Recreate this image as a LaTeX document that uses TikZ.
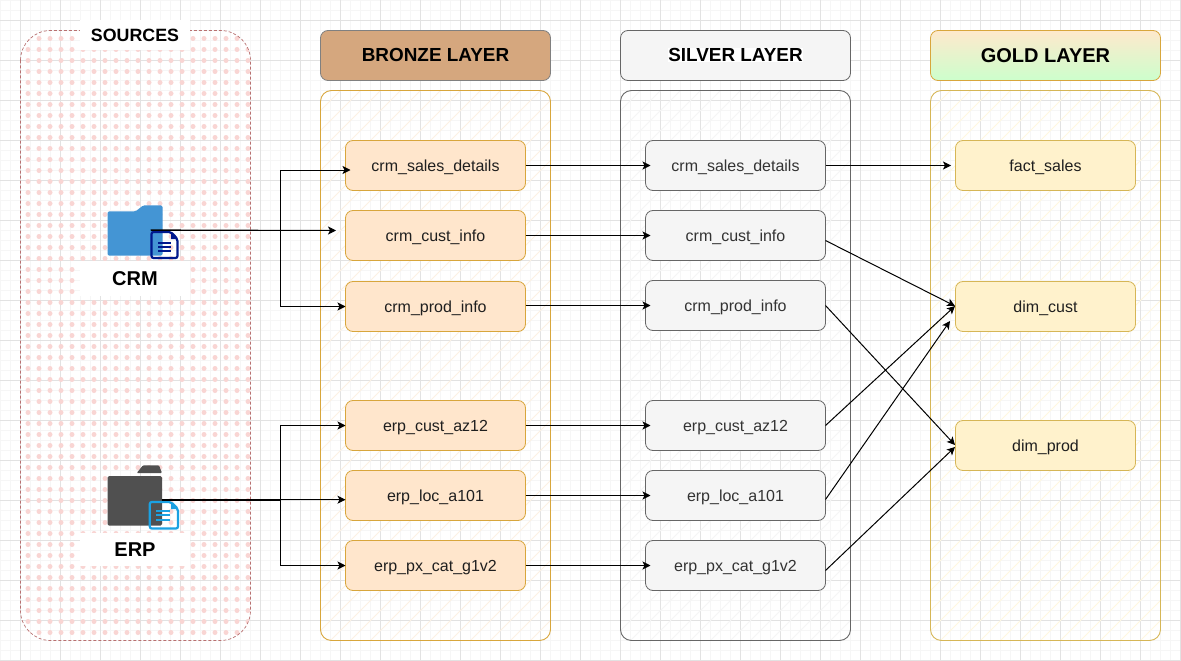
\documentclass[tikz,border=0pt]{standalone}
\usepackage{fontspec}
\setmainfont{Liberation Sans}
\usetikzlibrary{arrows.meta,calc}
\definecolor{gridminor}{HTML}{F6F6F6}
\definecolor{gridmajor}{HTML}{E2E2E2}
\definecolor{dotpink}{HTML}{F9D5D3}
\definecolor{srcdash}{HTML}{B87070}
\definecolor{bronzehead}{HTML}{D5A77E}
\definecolor{bronzeedge}{HTML}{D8A63C}
\definecolor{bronzefill}{HTML}{FFE6CC}
\definecolor{bronzehatch}{HTML}{FCF1E3}
\definecolor{silverfill}{HTML}{F5F5F5}
\definecolor{silveredge}{HTML}{666666}
\definecolor{silverhatch}{HTML}{F5F5F5}
\definecolor{goldfill}{HTML}{FFF2CC}
\definecolor{goldedge}{HTML}{D6B656}
\definecolor{goldhatch}{HTML}{FFF7E0}
\definecolor{crmblue}{HTML}{4495D4}
\definecolor{crmdoc}{HTML}{00188D}
\definecolor{erpgrey}{HTML}{505050}
\definecolor{erpdoc}{HTML}{1BA1E2}
\tikzset{
  x=1pt,y=-1pt,
  boxbase/.style={rectangle,rounded corners=7.5pt,minimum width=180pt,minimum height=50pt,inner sep=0pt,outer sep=0pt,line width=.8pt,text height=11pt,text depth=0pt,font=\fontsize{16}{18}\selectfont},
  bronzenode/.style={boxbase,draw=bronzeedge,fill=bronzefill,text=black!88},
  silvernode/.style={boxbase,draw=silveredge,fill=silverfill,text=black!80},
  goldnode/.style={boxbase,draw=goldedge,fill=goldfill,text=black!88},
  headbase/.style={rectangle,rounded corners=7.5pt,minimum width=230pt,minimum height=50pt,inner sep=0pt,outer sep=0pt,line width=.8pt,text height=12pt,text depth=0pt,font=\fontsize{18.9}{22}\selectfont\bfseries},
  panelbase/.style={rounded corners=11pt,line width=.9pt},
  flow/.style={draw=black,line width=1pt,-{Stealth[length=8pt,width=8pt,inset=2pt]}},
  srclabel/.style={rectangle,fill=white,inner sep=0pt,minimum width=110pt,text=black,font=\bfseries},
}
\newcommand{\hatchpanel}[3]{%
  \begin{scope}
    \clip[rounded corners=11pt] (#1,90.5) rectangle (#1+230,640.5);
    \foreach \c in {-550,-530,...,240} {
      \draw[#3,line width=.8pt] (#1+\c,640.5) -- (#1+\c+550,90.5);
    }
  \end{scope}
  \draw[panelbase,draw=#2] (#1,90.5) rectangle (#1+230,640.5);
}
\begin{document}
\begin{tikzpicture}
\useasboundingbox (0,0) rectangle (1181,661);
\fill[white] (0,0) rectangle (1181,661);
% grid
\foreach \v in {0.5,10.5,...,1180.5} \draw[gridminor,line width=.8pt] (\v,0) -- (\v,661);
\foreach \v in {0.5,10.5,...,660.5} \draw[gridminor,line width=.8pt] (0,\v) -- (1181,\v);
\foreach \v in {20.5,60.5,...,1180.5} \draw[gridmajor,line width=.8pt] (\v,0) -- (\v,661);
\foreach \v in {20.5,60.5,...,660.5} \draw[gridmajor,line width=.8pt] (0,\v) -- (1181,\v);
% sources panel
\begin{scope}
  \clip[rounded corners=30pt] (20.5,30.5) rectangle (250.5,640.5);
  \foreach \i in {0,...,20} \foreach \j in {0,...,54}
    \fill[dotpink] (28+11*\i,38.5+11*\j) circle[radius=2.5];
\end{scope}
\draw[srcdash,dash pattern=on 3pt off 2pt,line width=.7pt,rounded corners=30pt] (20.5,30.5) rectangle (250.5,640.5);
\node[srclabel,minimum height=30pt,font=\fontsize{17.8}{20}\selectfont\bfseries] (sources) at (135,35) {SOURCES};
\node[srclabel,minimum height=35pt,text height=14pt,text depth=0pt,font=\fontsize{20}{23}\selectfont\bfseries] (crm) at (135,278) {CRM};
\node[srclabel,minimum height=33pt,text height=14pt,text depth=0pt,font=\fontsize{20}{23}\selectfont\bfseries] (erp) at (135,549) {ERP};
% layer panels
\hatchpanel{320.5}{bronzeedge}{bronzehatch}
\hatchpanel{620.5}{silveredge}{silverhatch}
\hatchpanel{930.5}{goldedge}{goldhatch}
% headers
\node[headbase,draw=black!50,fill=bronzehead] (hbronze) at (435.5,55.5) {BRONZE LAYER};
\node[headbase,draw=silveredge,fill=silverfill] (hsilver) at (735.5,55.5) {\setlength{\fboxsep}{0pt}\colorbox{white}{SILVER LAYER}};
\node[headbase,draw=bronzeedge,top color=bronzefill!80!goldfill,bottom color=green!20,text height=14pt,font=\fontsize{20}{23}\selectfont\bfseries] (hgold) at (1045.5,55.5) {GOLD LAYER};
% bronze
\node[bronzenode] (bsales) at (435.5,165.5) {crm\_sales\_details};
\node[bronzenode] (bcust) at (435.5,235.5) {crm\_cust\_info};
\node[bronzenode] (bprod) at (435.5,306.5) {crm\_prod\_info};
\node[bronzenode] (baz) at (435.5,425.5) {erp\_cust\_az12};
\node[bronzenode] (bloc) at (435.5,495.5) {erp\_loc\_a101};
\node[bronzenode] (bpx) at (435.5,565.5) {erp\_px\_cat\_g1v2};
% silver
\node[silvernode] (ssales) at (735.5,165.5) {crm\_sales\_details};
\node[silvernode] (scust) at (735.5,235.5) {crm\_cust\_info};
\node[silvernode] (sprod) at (735.5,305.5) {crm\_prod\_info};
\node[silvernode] (saz) at (735.5,425.5) {erp\_cust\_az12};
\node[silvernode] (sloc) at (735.5,495.5) {erp\_loc\_a101};
\node[silvernode] (spx) at (735.5,565.5) {erp\_px\_cat\_g1v2};
% gold
\node[goldnode] (gfact) at (1045.5,165.5) {fact\_sales};
\node[goldnode] (gcust) at (1045.5,306.5) {dim\_cust};
\node[goldnode] (gprod) at (1045.5,445.5) {dim\_prod};
% icons: CRM
\fill[crmblue,rounded corners=1.5pt] (107.5,211.3) -- (135.7,211.3) -- (143.3,205.3) -- (162.5,205.3) -- (162.5,255.5) -- (107.5,255.5) -- cycle;
\draw[crmdoc,line width=2.2pt,rounded corners=2pt] (151.5,232) -- (171,232) -- (177.5,239) -- (177.5,258) -- (151.5,258) -- cycle;
\foreach \y in {243,247.3,251.3} \draw[crmdoc,line width=1.8pt] (158,\y) -- (171,\y);
\fill[crmdoc] (171,232) -- (177.5,239) -- (171,239) -- cycle;
% icons: ERP
\fill[erpgrey,rounded corners=1.5pt] (107.5,476) -- (162,476) -- (162,525.7) -- (107.5,525.7) -- cycle;
\fill[erpgrey,rounded corners=1pt] (136.7,473) -- (143,465.3) -- (159,465.3) -- (162,473) -- cycle;
\draw[erpdoc,line width=2.2pt,rounded corners=2pt] (149.8,502) -- (171,502) -- (178,509) -- (178,528.5) -- (149.8,528.5) -- cycle;
\foreach \y in {511.3,515.3,519.7} \draw[erpdoc,line width=1.8pt] (156,\y) -- (170,\y);
\fill[erpdoc] (171,502) -- (178,509) -- (171,509) -- cycle;
% connector free ends
\coordinate (crmsrc) at (150.5,230.7);
\coordinate (crmsrcb) at (150.5,229.9);
\coordinate (crmjoin) at (280.5,230.7);
\coordinate (crmtip) at (336,230.5);
\coordinate (erpsrc) at (161.5,500.7);
\coordinate (erpsrcb) at (161.5,499.7);
\coordinate (erpjoin) at (280.5,500.7);
\coordinate (erpjoinb) at (280.5,499.7);
\coordinate (factin) at (951,165.5);
\coordinate (custin) at (955,306);
\coordinate (custlow) at (950,321);
\coordinate (prodin) at (955,445);
\coordinate (prodlow) at (955,447);
% source connectors
\draw[flow] (crmsrc) -- (crmjoin) |- ([shift={(5pt,-4.5pt)}]bsales.west);
\draw[flow] (crmsrcb) -- (crmtip);
\draw[flow] (crmsrc) -- (crmjoin) |- (bprod.west);
\draw[flow] (erpsrc) -- (erpjoin) |- (baz.west);
\draw[flow] (erpsrcb) -- (erpjoinb) -- (erpjoinb -| bloc.west);
\draw[flow] (erpsrc) -- (erpjoin) |- (bpx.west);
% bronze to silver
\foreach \a/\b in {bsales/ssales,bcust/scust,baz/saz,bloc/sloc,bpx/spx}
  \draw[flow] (\a.east) -- ([xshift=5pt]\b.west);
\draw[flow] (sprod.west -| bprod.east) -- ([xshift=5pt]sprod.west);
% silver to gold
\draw[flow] (ssales.east) -- (factin);
\draw[flow] ([yshift=-5pt]scust.east) -- (custin);
\draw[flow] (sprod.east) -- (prodin);
\draw[flow] (saz.east) -- (custin);
\draw[flow] ([yshift=-4pt]sloc.east) -- (custlow);
\draw[flow] ([yshift=-5pt]spx.east) -- (prodlow);
\end{tikzpicture}
\end{document}
